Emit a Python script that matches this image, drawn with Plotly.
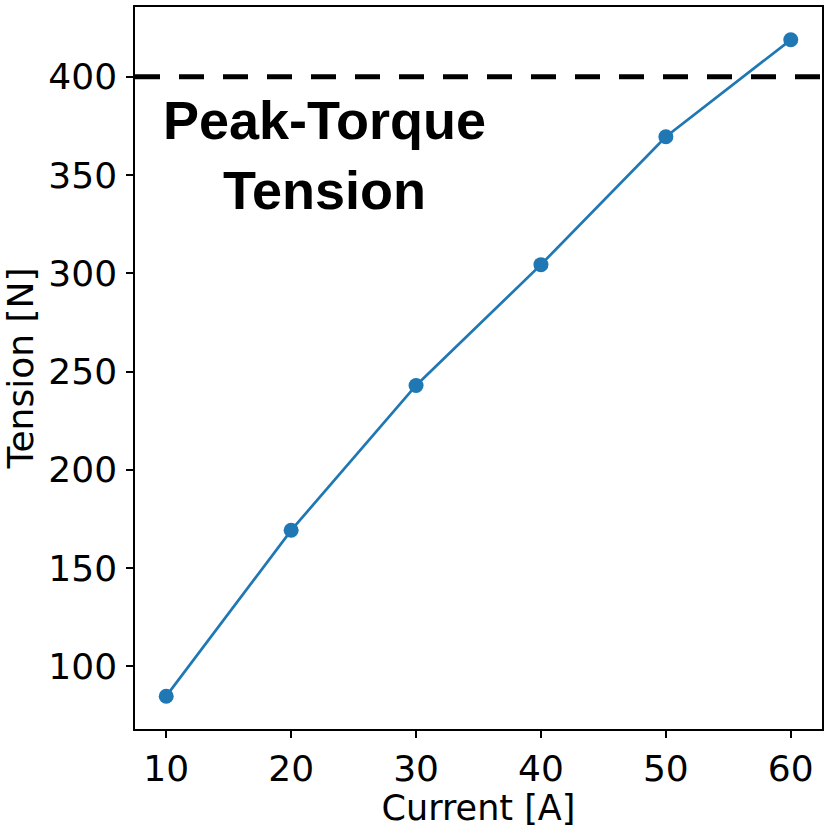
import plotly.graph_objects as go

# current vs tension readings
current = [10, 20, 30, 40, 50, 60]
tension = [84.8, 169.2, 242.9, 304.4, 369.5, 418.8]
peak_tension = 400
x_ticks = [10, 20, 30, 40, 50, 60]
y_ticks = [100, 150, 200, 250, 300, 350, 400]

fig = go.Figure()

fig.add_trace(go.Scatter(
    x=current, y=tension, mode="lines+markers",
    line=dict(color="#1f77b4", width=2.7),
    marker=dict(color="#1f77b4", size=15),
    showlegend=False,
))

# peak torque line across full width
fig.add_hline(y=peak_tension, line=dict(color="black", width=5, dash="25px,19px"))

fig.add_annotation(
    x=22.7, y=360, xref="x", yref="y",
    text="<b>Peak-Torque<br>Tension</b>", showarrow=False,
    font=dict(family="Liberation Sans, Arial", size=54, color="black"),
    align="center", xanchor="center", yanchor="middle",
)

axis_common = dict(
    showline=True, linecolor="black", linewidth=1.5, mirror=True,
    ticks="outside", ticklen=7, tickwidth=1.5, tickcolor="black",
    showgrid=False, zeroline=False,
    tickfont=dict(family="DejaVu Sans", size=36, color="black"),
)

fig.update_xaxes(
    range=[7.5, 62.5], tickvals=x_ticks, ticklabelstandoff=0,
    title=dict(text="Current [A]", font=dict(family="DejaVu Sans", size=35, color="black"), standoff=3),
    **axis_common,
)
fig.update_yaxes(
    range=[68.1, 435.5], tickvals=y_ticks, ticklabelstandoff=2,
    title=dict(text="Tension [N]", font=dict(family="DejaVu Sans", size=36, color="black"), standoff=14),
    **axis_common,
)

fig.update_layout(
    width=830, height=828,
    margin=dict(l=135, r=8, t=5, b=99),
    plot_bgcolor="white", paper_bgcolor="white",
)

# page has a default body margin; drop it so the figure fills the window
fig.write_html("out.html", config={"displayModeBar": False},
               post_script="document.body.style.margin='0px';")
